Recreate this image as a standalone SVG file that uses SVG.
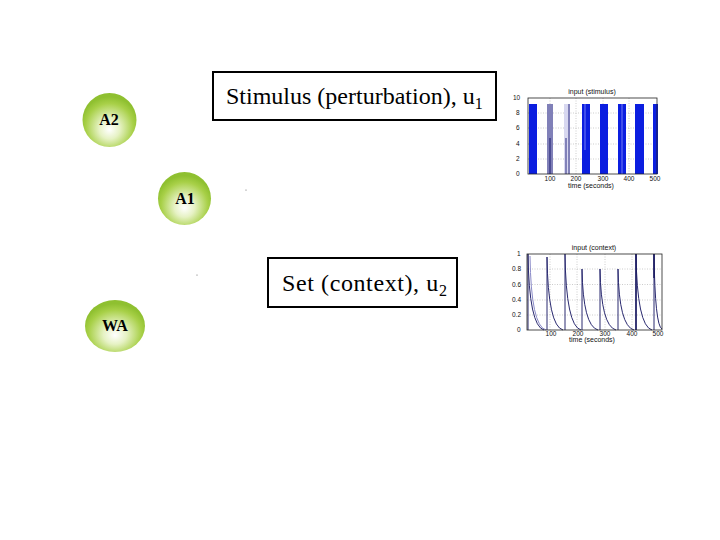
<svg xmlns="http://www.w3.org/2000/svg" width="720" height="540" viewBox="0 0 720 540">
<style>
.lbl{font-family:"Liberation Serif",serif;font-weight:bold;font-size:16px;fill:#000;text-anchor:middle}
.box{fill:#fff;stroke:#000;stroke-width:2}
.bt{font-family:"Liberation Serif",serif;font-size:24px;fill:#000}
.ax{fill:none;stroke:#222;stroke-width:0.8}
.grid{stroke:#999;stroke-width:0.5;stroke-dasharray:1 1.5}
.tk{font-family:"Liberation Sans",sans-serif;font-size:6.5px;fill:#111}
.tx{font-family:"Liberation Sans",sans-serif;font-size:6.5px;fill:#111;text-anchor:middle}
.tt{font-family:"Liberation Sans",sans-serif;font-size:7px;fill:#111;text-anchor:middle}
.dec{fill:none;stroke:#2a2a70;stroke-width:1}
.decl{fill:none;stroke:#8a8ac8;stroke-width:1}
</style>
<defs>
<radialGradient id="ball" cx="0.5" cy="0.62" r="0.55" fx="0.5" fy="0.68">
<stop offset="0" stop-color="#ffffff"/>
<stop offset="0.35" stop-color="#e6f2c4"/>
<stop offset="0.8" stop-color="#a8d048"/>
<stop offset="1" stop-color="#8fc030"/>
</radialGradient>
</defs>
<rect width="720" height="540" fill="#fff"/>

<g id="A2">
<circle cx="109.5" cy="120" r="27" fill="url(#ball)"/>
<text class="lbl" x="109" y="125">A2</text>
</g>
<g id="A1">
<circle cx="184.5" cy="198.5" r="26.5" fill="url(#ball)"/>
<text class="lbl" x="185" y="204">A1</text>
</g>
<g id="WA">
<ellipse cx="115" cy="326" rx="30" ry="26" fill="url(#ball)"/>
<text class="lbl" x="115" y="331">WA</text>
</g>

<g id="stimulus">
<rect class="box" x="213" y="72" width="283" height="48"/>
<text class="bt" x="226" y="104">Stimulus (perturbation), u<tspan font-size="16" dy="5">1</tspan></text>
</g>
<g id="set">
<rect class="box" x="268" y="258" width="189" height="49"/>
<text class="bt" x="282" y="291" letter-spacing="0.6">Set (context), u<tspan font-size="16" dy="5">2</tspan></text>
</g>

<g id="connectors">
<circle cx="246" cy="190" r="0.6" fill="#666"/>
<circle cx="197" cy="275" r="0.6" fill="#666"/>
</g>

<g id="plot-stimulus">
<text class="tt" x="592" y="94">input (stimulus)</text>
<line class="grid" x1="550" y1="98" x2="550" y2="174"/>
<line class="grid" x1="576" y1="98" x2="576" y2="174"/>
<line class="grid" x1="603" y1="98" x2="603" y2="174"/>
<line class="grid" x1="629" y1="98" x2="629" y2="174"/>
<line class="grid" x1="528" y1="113" x2="657" y2="113"/>
<line class="grid" x1="528" y1="128" x2="657" y2="128"/>
<line class="grid" x1="528" y1="144" x2="657" y2="144"/>
<line class="grid" x1="528" y1="159" x2="657" y2="159"/>
<rect x="529" y="104" width="8" height="70" fill="#0b1ee0"/>
<rect x="547" y="104" width="6" height="70" fill="#8080b8"/>
<line x1="550" y1="138" x2="550" y2="174" stroke="#1a1a70" stroke-width="1"/>
<rect x="564" y="104" width="6" height="70" fill="#d8d8f0"/>
<line x1="566" y1="138" x2="566" y2="174" stroke="#2a2a80" stroke-width="1"/>
<line x1="569" y1="104" x2="569" y2="174" stroke="#2a2a80" stroke-width="1"/>
<rect x="582" y="104" width="8" height="70" fill="#0b1ee0"/>
<line x1="585" y1="104" x2="585" y2="150" stroke="#a0a8ff" stroke-width="0.7"/>
<rect x="600" y="104" width="8" height="70" fill="#0b1ee0"/>
<rect x="618" y="104" width="8" height="70" fill="#0b1ee0"/>
<line x1="622" y1="104" x2="622" y2="174" stroke="#a0a8ff" stroke-width="0.7"/>
<rect x="635" y="104" width="9" height="70" fill="#0b1ee0"/>
<rect x="653" y="104" width="5" height="70" fill="#0b1ee0"/>
<rect class="ax" x="528" y="98" width="129" height="76"/>
<text class="tk" x="513" y="100">10</text>
<text class="tk" x="516" y="115">8</text>
<text class="tk" x="516" y="130">6</text>
<text class="tk" x="516" y="146">4</text>
<text class="tk" x="516" y="161">2</text>
<text class="tk" x="516" y="176">0</text>
<text class="tx" x="550" y="180.5">100</text>
<text class="tx" x="576" y="180.5">200</text>
<text class="tx" x="603" y="180.5">300</text>
<text class="tx" x="629" y="180.5">400</text>
<text class="tx" x="655" y="180.5">500</text>
<text class="tt" x="591" y="188">time (seconds)</text>
</g>

<g id="plot-context">
<text class="tt" x="594" y="250">input (context)</text>
<line class="grid" x1="550" y1="254" x2="550" y2="330"/>
<line class="grid" x1="577" y1="254" x2="577" y2="330"/>
<line class="grid" x1="605" y1="254" x2="605" y2="330"/>
<line class="grid" x1="632" y1="254" x2="632" y2="330"/>
<line class="grid" x1="527" y1="269" x2="662" y2="269"/>
<line class="grid" x1="527" y1="284.5" x2="662" y2="284.5"/>
<line class="grid" x1="527" y1="300" x2="662" y2="300"/>
<line class="grid" x1="527" y1="315" x2="662" y2="315"/>
<path class="dec" d="M528,330 V254 Q529,326 544,330"/>
<path class="decl" d="M530,256 Q531,326 546,330"/>
<path class="dec" d="M547,330 V257 Q548,326 563,330"/>
<path class="dec" d="M565,330 V254 Q566,326 581,330"/>
<path class="dec" d="M582,330 V269 Q583,326 598,330"/>
<path class="dec" d="M600,330 V269 Q601,326 616,330"/>
<path class="dec" d="M618,330 V269 Q619,326 634,330"/>
<path class="dec" d="M636,330 V254 Q637,326 652,330"/>
<line x1="636" y1="254" x2="636" y2="330" stroke="#1a1a60" stroke-width="1.5"/>
<path class="dec" d="M654,330 V254 Q655,326 662,329"/>
<line x1="654" y1="254" x2="654" y2="278" stroke="#1a1a60" stroke-width="1.5"/>
<rect class="ax" x="527" y="254" width="135" height="76"/>
<text class="tk" x="517" y="256">1</text>
<text class="tk" x="512" y="271">0.8</text>
<text class="tk" x="512" y="287">0.6</text>
<text class="tk" x="512" y="302">0.4</text>
<text class="tk" x="512" y="317">0.2</text>
<text class="tk" x="517" y="332">0</text>
<text class="tx" x="551" y="335.5">100</text>
<text class="tx" x="578" y="335.5">200</text>
<text class="tx" x="605" y="335.5">300</text>
<text class="tx" x="632" y="335.5">400</text>
<text class="tx" x="658" y="335.5">500</text>
<text class="tt" x="592" y="342">time (seconds)</text>
</g>
</svg>
